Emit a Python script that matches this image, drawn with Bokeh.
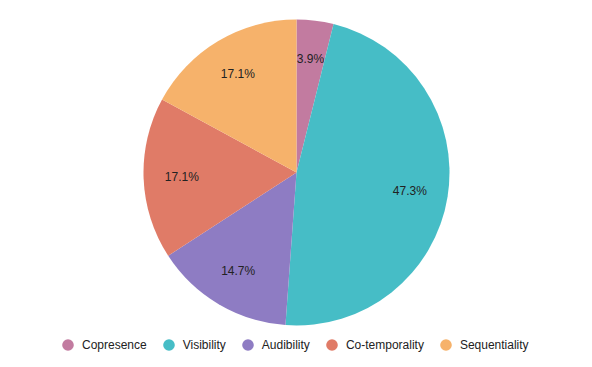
import math
from bokeh.plotting import figure
from bokeh.models import ColumnDataSource, Legend, LegendItem, Range1d
from bokeh.core.properties import value
from bokeh.embed import file_html
from bokeh.resources import INLINE

categories = ["Copresence", "Visibility", "Audibility", "Co-temporality", "Sequentiality"]
values = [3.9, 47.3, 14.7, 17.1, 17.1]
colors = ["#c27ba0", "#46bdc6", "#8e7cc3", "#e07b67", "#f6b26b"]

W, H = 576, 360
cx, cy, R = 296, 188, 153

total = sum(values)
starts, ends, lx, ly, labels = [], [], [], [], []
acc = 0.0
for v in values:
    a0 = math.pi / 2 - 2 * math.pi * acc / total
    acc += v
    a1 = math.pi / 2 - 2 * math.pi * acc / total
    starts.append(a0)
    ends.append(a1)
    mid = (a0 + a1) / 2
    lx.append(cx + 0.75 * R * math.cos(mid))
    ly.append(cy + 0.75 * R * math.sin(mid))
    labels.append(f"{v:.1f}%")

src = ColumnDataSource(dict(start=starts, end=ends, color=colors, cat=categories))
lsrc = ColumnDataSource(dict(x=lx, y=ly, t=labels))

p = figure(width=W, height=H, output_backend="svg", toolbar_location=None,
           x_range=Range1d(0, W), y_range=Range1d(0, H), min_border=0)
p.axis.visible = False
p.grid.visible = False
p.outline_line_color = None

p.wedge(x=cx, y=cy, radius=R, start_angle="start", end_angle="end", direction="clock",
        fill_color="color", line_color=None, source=src)
p.text(x="x", y="y", text="t", source=lsrc, text_align="center", text_baseline="middle",
       text_font_size="12px", text_font=value("Liberation Sans"), text_color="#222222")

items = []
for c, col in zip(categories, colors):
    r = p.scatter(x=[-1000], y=[-1000], marker="circle", size=12, fill_color=col, line_color=None)
    items.append(LegendItem(label=c, renderers=[r]))

legend = Legend(items=items, orientation="horizontal", location=(53, 1),
                label_text_font="Liberation Sans", label_text_font_size="12px",
                label_text_color="#222222", glyph_width=29, glyph_height=29,
                label_standoff=0, spacing=7, padding=0, margin=0,
                border_line_color=None, background_fill_alpha=0)
p.add_layout(legend)

open("out.html", "w").write(file_html(p, INLINE))
